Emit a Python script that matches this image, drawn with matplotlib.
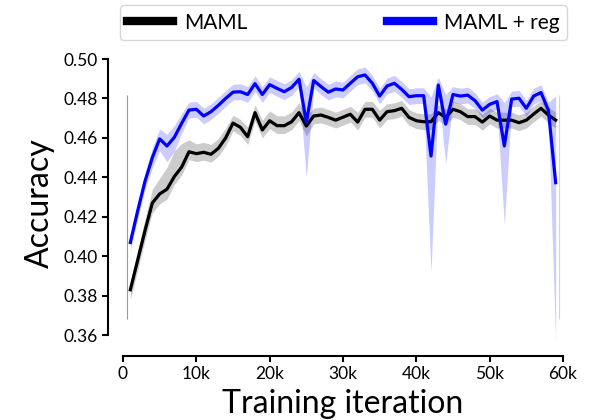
import matplotlib
matplotlib.use("Agg")
import matplotlib.pyplot as plt
import numpy as np

plt.rcParams['font.family'] = ['Lato', 'DejaVu Sans']

iterations = [1000 * i for i in range(1, 60)]

maml_mean = [0.383, 0.398, 0.413, 0.427, 0.4316, 0.434, 0.4404, 0.4452, 0.453, 0.452,
             0.4527, 0.4517, 0.4547, 0.460, 0.4675, 0.4654, 0.4606, 0.4728, 0.464, 0.4687,
             0.4662, 0.4662, 0.4682, 0.4728, 0.466, 0.4711, 0.4716, 0.4704, 0.469, 0.4705,
             0.472, 0.468, 0.4745, 0.4745, 0.469, 0.4733, 0.4738, 0.475, 0.4704, 0.4687,
             0.4682, 0.4682, 0.4728, 0.4704, 0.4745, 0.4733, 0.4708, 0.4708, 0.468, 0.4711,
             0.469, 0.469, 0.469, 0.4677, 0.469, 0.4721, 0.475, 0.4716, 0.469]
maml_err_lo = [0.005, 0.005, 0.005, 0.005, 0.005, 0.005, 0.004, 0.004, 0.004, 0.004,
               0.004, 0.004, 0.004, 0.004, 0.004, 0.004, 0.004, 0.004, 0.004, 0.004,
               0.004, 0.004, 0.004, 0.004, 0.005, 0.004, 0.004, 0.004, 0.004, 0.004,
               0.004, 0.004, 0.004, 0.004, 0.004, 0.004, 0.004, 0.004, 0.004, 0.004,
               0.004, 0.004, 0.004, 0.004, 0.004, 0.004, 0.004, 0.004, 0.004, 0.004,
               0.004, 0.004, 0.004, 0.004, 0.004, 0.004, 0.004, 0.004, 0.004]
maml_err_hi = [0.004, 0.005, 0.006, 0.007, 0.008, 0.011, 0.013, 0.012, 0.006, 0.005,
               0.005, 0.005, 0.005, 0.005, 0.004, 0.004, 0.005, 0.004, 0.005, 0.005,
               0.005, 0.005, 0.005, 0.005, 0.005, 0.004, 0.004, 0.004, 0.004, 0.004,
               0.004, 0.005, 0.004, 0.004, 0.005, 0.004, 0.004, 0.004, 0.004, 0.004,
               0.004, 0.004, 0.004, 0.004, 0.004, 0.004, 0.004, 0.004, 0.004, 0.004,
               0.004, 0.004, 0.004, 0.004, 0.004, 0.004, 0.004, 0.004, 0.004]

reg_mean = [0.407, 0.423, 0.438, 0.450, 0.4595, 0.4559, 0.4603, 0.4674, 0.4741, 0.4745,
            0.4711, 0.4733, 0.4765, 0.480, 0.4832, 0.4834, 0.482, 0.4875, 0.482, 0.487,
            0.4851, 0.4834, 0.4856, 0.4897, 0.4678, 0.4891, 0.486, 0.4832, 0.4848, 0.4843,
            0.4877, 0.491, 0.4919, 0.4877, 0.4812, 0.4863, 0.4877, 0.4846, 0.4809, 0.4814,
            0.4814, 0.4508, 0.4868, 0.467, 0.482, 0.4812, 0.4817, 0.4789, 0.4741, 0.477,
            0.4784, 0.4559, 0.4797, 0.4801, 0.475, 0.4812, 0.483, 0.4741, 0.4373]
reg_err_lo = [0.004, 0.004, 0.004, 0.005, 0.006, 0.008, 0.007, 0.005, 0.004, 0.004,
              0.004, 0.004, 0.004, 0.004, 0.004, 0.004, 0.004, 0.004, 0.004, 0.004,
              0.004, 0.004, 0.004, 0.004, 0.028, 0.004, 0.004, 0.004, 0.004, 0.004,
              0.004, 0.004, 0.004, 0.004, 0.004, 0.004, 0.004, 0.004, 0.004, 0.004,
              0.004, 0.059, 0.004, 0.020, 0.004, 0.004, 0.004, 0.004, 0.004, 0.004,
              0.004, 0.040, 0.004, 0.004, 0.004, 0.004, 0.004, 0.004, 0.081]
reg_err_hi = [0.003, 0.004, 0.004, 0.005, 0.005, 0.006, 0.006, 0.005, 0.004, 0.004,
              0.004, 0.004, 0.004, 0.004, 0.004, 0.004, 0.004, 0.004, 0.004, 0.004,
              0.004, 0.004, 0.004, 0.004, 0.018, 0.004, 0.004, 0.004, 0.004, 0.004,
              0.004, 0.004, 0.004, 0.004, 0.004, 0.004, 0.004, 0.004, 0.004, 0.004,
              0.004, 0.030, 0.004, 0.015, 0.004, 0.004, 0.004, 0.004, 0.004, 0.004,
              0.004, 0.022, 0.004, 0.004, 0.004, 0.004, 0.004, 0.004, 0.044]

edge_x = [600, 59500]
edge_span = (0.368, 0.482)

x_ticks = [0, 10000, 20000, 30000, 40000, 50000, 60000]
x_ticklabels = ['0', '10k', '20k', '30k', '40k', '50k', '60k']
y_ticks = [0.36, 0.38, 0.40, 0.42, 0.44, 0.46, 0.48, 0.50]

W, H = 595, 420
fig = plt.figure(figsize=(W / 100, H / 100), dpi=100)
ax = fig.add_axes([123 / W, (H - 347) / H, 440 / W, 288 / H])

x = np.array(iterations)
mm = np.array(maml_mean)
rm = np.array(reg_mean)

ax.vlines(edge_x[0], *edge_span, color='#999999', lw=0.8)
ax.vlines(edge_x[1], *edge_span, color='#d0d0f8', lw=0.8)

ax.fill_between(x, mm - np.array(maml_err_lo), mm + np.array(maml_err_hi),
                color='#000000', alpha=0.2, lw=0)
ax.fill_between(x, rm - np.array(reg_err_lo), rm + np.array(reg_err_hi),
                color='#0000ff', alpha=0.2, lw=0)
ax.plot(x, mm, color='black', lw=2.3, label='MAML')
ax.plot(x, rm, color='#0000ff', lw=2.3, label='MAML + reg')

ax.set_xlim(0, 60000)
ax.set_ylim(0.354, 0.50)

for s in ['top', 'right']:
    ax.spines[s].set_visible(False)
ax.spines['left'].set_position(('outward', 11))
ax.spines['bottom'].set_position(('outward', 6.5))
ax.spines['left'].set_bounds(0.36, 0.50)
ax.spines['bottom'].set_bounds(0, 60000)
for s in ['left', 'bottom']:
    ax.spines[s].set_linewidth(1.5)

ax.set_xticks(x_ticks)
ax.set_xticklabels(x_ticklabels)
ax.set_yticks(y_ticks)
ax.set_yticklabels([f'{v:.2f}' for v in y_ticks])
ax.tick_params(labelsize=12.5, width=1.5, length=4, pad=3)

ax.set_xlabel('Training iteration', fontsize=23, labelpad=5)
ax.set_ylabel('Accuracy', fontsize=23, labelpad=6)

leg = ax.legend(loc='lower left', bbox_to_anchor=(-0.007, 1.066, 1.016, 0.1), mode='expand',
                ncol=2, fontsize=15, handlelength=2.2, borderaxespad=0,
                borderpad=0.35, handletextpad=0.55,
                frameon=True, fancybox=True, edgecolor='#cccccc')
for line in leg.get_lines():
    line.set_linewidth(6)

fig.savefig('out.png', dpi=100)
